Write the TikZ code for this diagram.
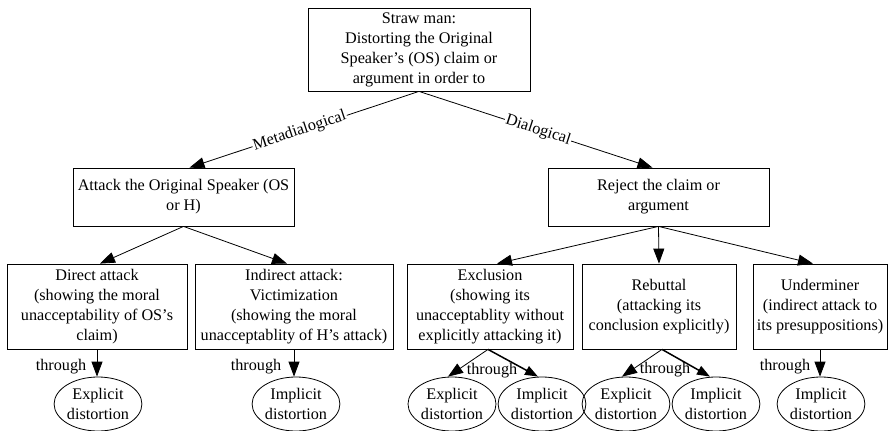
\documentclass[tikz,border=0pt]{standalone}
\usepackage{fontspec}
\setmainfont{Liberation Serif}
\usetikzlibrary{shapes.geometric,arrows.meta}
\begin{document}
\begin{tikzpicture}[x=1pt,y=-1pt,
  every node/.style={font=\fontsize{16.2}{20}\selectfont},
  box/.style={draw,line width=0.8pt,align=center,inner sep=0pt,minimum height=#1},
  oval/.style={draw,line width=0.8pt,ellipse,align=center,inner sep=0pt,minimum height=54,minimum width=#1},
  arr/.style={line width=0.8pt,-{Triangle[length=15pt,width=11pt]}},
  arrb/.style={line width=1.5pt,-{Triangle[length=13pt,width=9.5pt]}},
  elab/.style={sloped,fill=white,inner sep=1pt}]
\useasboundingbox (0,0) rectangle (889,431);

\node[box=83,minimum width=222] (top) at (419,49.5) {Straw man:\\Distorting the Original\\Speaker’s (OS) claim or\\argument in order to};
\node[box=58,minimum width=221] (attack) at (183.5,197) {Attack the Original Speaker (OS\\or H)};
\node[box=58,minimum width=221] (reject) at (658.5,197) {Reject the claim or\\argument};

\node[box=85,minimum width=180] (direct) at (97,306.5) {Direct attack\\(showing the moral\\unacceptability of OS’s\\claim)};
\node[box=85,minimum width=198] (indirect) at (294,306.5) {Indirect attack:\\Victimization\\(showing the moral\\unacceptablity of H’s attack)};
\node[box=85,minimum width=166] (excl) at (490,306.5) {Exclusion\\(showing its\\unacceptablity without\\explicitly attacking it)};
\node[box=85,minimum width=154] (rebut) at (659,306.5) {Rebuttal\\(attacking its\\conclusion explicitly)};
\node[box=85,minimum width=134] (under) at (820,306.5) {Underminer\\(indirect attack to\\its presuppositions)};

\node[oval=83] (e1) at (98,404) {Explicit\\distortion};
\node[oval=83] (i1) at (296,404) {Implicit\\distortion};
\node[oval=88] (e2) at (452,404) {Explicit\\distortion};
\node[oval=83] (i2) at (542,404) {Implicit\\distortion};
\node[oval=82] (e3) at (626,404) {Explicit\\distortion};
\node[oval=83] (i3) at (716,404) {Implicit\\distortion};
\node[oval=82] (i4) at (821,404) {Implicit\\distortion};

\draw[arr] (top.south) -- node[elab,pos=0.52] {Metadialogical} ([xshift=6pt]attack.north);
\draw[arr] (top.south) -- node[elab,pos=0.51] {Dialogical} ([xshift=-6pt]reject.north);

\draw[arr] (attack.south) -- ([xshift=3pt]direct.north);
\draw[arr] (attack.south) -- ([xshift=-7pt]indirect.north);
\draw[arr] (reject.south) -- ([xshift=7pt]excl.north);
\draw[arr] (reject.south) -- (rebut.north);
\draw[arr] (reject.south) -- ([xshift=-7pt]under.north);

\draw[arr] (direct.south) -- (e1.north -| direct.south);
\node (t1) at (61,367) {through};
\draw[arr] (indirect.south) -- (i1.north -| indirect.south);
\node (t2) at (256,367) {through};
\draw[arr] (under.south) -- (i4.north -| under.south);
\node (t5) at (785,367) {through};

\draw[arr] ([xshift=-2pt]excl.south) -- ([xshift=-4pt]e2.north);
\draw[arrb] ([xshift=-2pt]excl.south) -- ([xshift=-4pt]i2.north);
\node (t3) at (492,371) {through};
\draw[arr] ([xshift=3pt]rebut.south) -- ([xshift=-4pt]e3.north);
\draw[arrb] ([xshift=3pt]rebut.south) -- ([xshift=-6pt]i3.north);
\node (t4) at (665,370) {through};
\end{tikzpicture}
\end{document}
